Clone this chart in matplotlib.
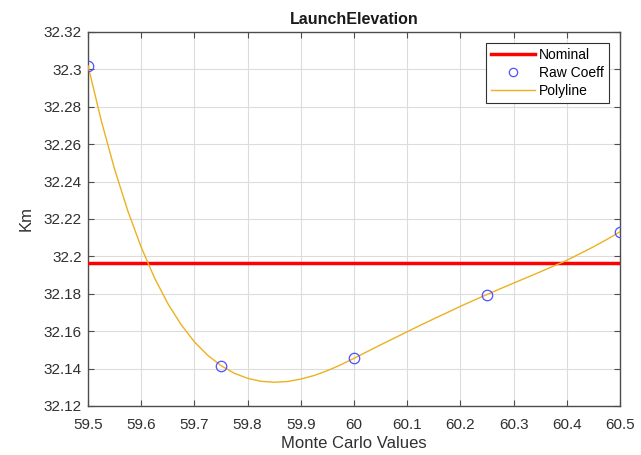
import matplotlib
matplotlib.use("Agg")
import matplotlib.pyplot as plt

plt.rcParams['font.family'] = ['Liberation Sans', 'DejaVu Sans']

# sample values and their raw coefficients
mc_values = [59.5, 59.75, 60.0, 60.25, 60.5]
raw_coeff = [32.302, 32.1416, 32.1455, 32.1796, 32.2132]
nominal = 32.1963

# polyline through the raw coefficients, sampled every 0.025
poly_x = [59.500, 59.525, 59.550, 59.575, 59.600, 59.625, 59.650, 59.675, 59.700,
          59.725, 59.750, 59.775, 59.800, 59.825, 59.850, 59.875, 59.900, 59.925,
          59.950, 59.975, 60.000, 60.025, 60.050, 60.075, 60.100, 60.125, 60.150,
          60.175, 60.200, 60.225, 60.250, 60.275, 60.300, 60.325, 60.350, 60.375,
          60.400, 60.425, 60.450, 60.475, 60.500]
poly_y = [32.3020, 32.2725, 32.2466, 32.2242, 32.2049, 32.1885, 32.1748, 32.1635, 32.1543,
          32.1471, 32.1416, 32.1375, 32.1348, 32.1332, 32.1327, 32.1331, 32.1344, 32.1363,
          32.1389, 32.1420, 32.1455, 32.1491, 32.1527, 32.1562, 32.1597, 32.1632, 32.1666,
          32.1699, 32.1733, 32.1765, 32.1796, 32.1827, 32.1857, 32.1887, 32.1917, 32.1948,
          32.1979, 32.2015, 32.2051, 32.2090, 32.2132]

x_ticks = [59.5, 59.6, 59.7, 59.8, 59.9, 60.0, 60.1, 60.2, 60.3, 60.4, 60.5]
x_labels = ['59.5', '59.6', '59.7', '59.8', '59.9', '60', '60.1', '60.2', '60.3', '60.4', '60.5']
y_ticks = [32.12, 32.14, 32.16, 32.18, 32.2, 32.22, 32.24, 32.26, 32.28, 32.3, 32.32]
y_labels = ['32.12', '32.14', '32.16', '32.18', '32.2', '32.22', '32.24', '32.26', '32.28', '32.3', '32.32']

fig = plt.figure(figsize=(6.41, 4.55), dpi=100)
ax = fig.add_axes([0.1373, 0.1077, 0.8299, 0.822])

ax.axhline(nominal, color='#ff0000', lw=2.5, label='Nominal', zorder=3)
ax.plot(mc_values, raw_coeff, 'o', mfc='none', mec='#5050ff', ms=7.5, mew=0.9,
        label='Raw Coeff', zorder=4)
ax.plot(poly_x, poly_y, color='#edb120', lw=1.0, label='Polyline', zorder=3)

ax.set_xlim(59.5, 60.5)
ax.set_ylim(32.12, 32.32)
ax.set_xticks(x_ticks)
ax.set_xticklabels(x_labels)
ax.set_yticks(y_ticks)
ax.set_yticklabels(y_labels)

dark = '#303030'
ax.grid(True, color='#dcdcdc', lw=0.8)
ax.set_axisbelow(True)
for s in ax.spines.values():
    s.set_color('#4d4d4d')
    s.set_linewidth(1.0)
ax.tick_params(direction='in', length=4, top=True, right=True,
               colors='#4d4d4d', labelcolor=dark, labelsize=11)
ax.tick_params(axis='x', pad=8.5)
ax.tick_params(axis='y', pad=4.5)

ax.set_title('LaunchElevation', fontsize=11.5, fontweight='bold', color='#1a1a1a', pad=6)
ax.set_xlabel('Monte Carlo Values', fontsize=12, color=dark, labelpad=3)
ax.set_ylabel('Km', fontsize=12, color=dark, labelpad=7)

leg = ax.legend(loc='upper right', fontsize=10, frameon=True, fancybox=False,
                borderpad=0.35, labelspacing=0.3, handlelength=3.2,
                handletextpad=0.3, borderaxespad=0.8, markerscale=0.8)
leg.get_frame().set_edgecolor('#303030')
leg.get_frame().set_linewidth(0.8)
leg.get_frame().set_alpha(1)

fig.savefig('out.png', dpi=100)
